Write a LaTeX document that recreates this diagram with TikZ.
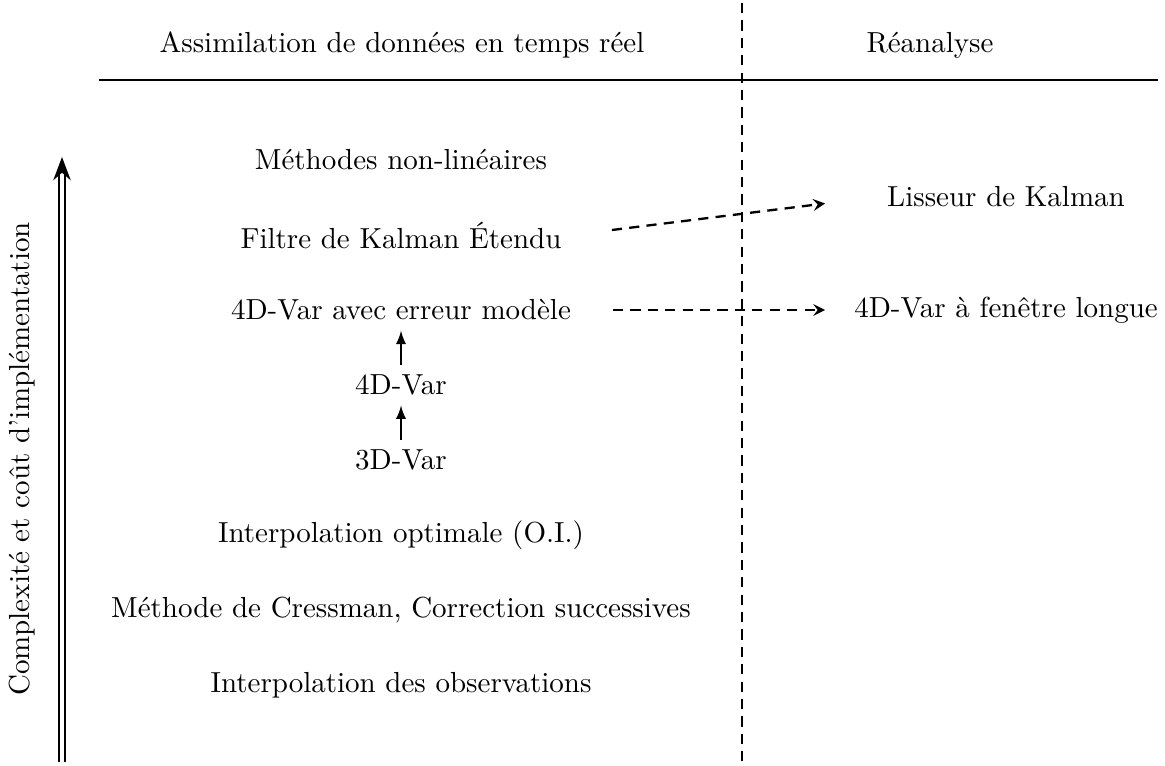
\documentclass[tikz,border=0pt]{standalone}
\usetikzlibrary{arrows.meta}
\tikzset{tiret/.style={thick,dash pattern=on 3.5pt off 2.5pt}}

\begin{document}
\begin{tikzpicture}[x=0.3448pt,y=-0.3448pt]
		\useasboundingbox (0,0) rectangle (1165,765);
		% Headers
		\node (assim) at (402,45) {Assimilation de données en temps réel};
		\node (reana) at (930,45) {Réanalyse};
		\coordinate (hg) at (99,80);
		\coordinate (hd) at (1158,80);
		\coordinate (vh) at (742,3);
		\coordinate (vb) at (742,765);
		\draw[thick] (hg) -- (hd);
		\draw[tiret] (vh) -- (vb);
		% First column
		\node (nonlin) at (401,160) {Méthodes non-linéaires};
		\node (ekf) at (401,235) {Filtre de Kalman Étendu};
		\node (var4dm) at (401,310) {4D-Var avec erreur modèle};
		\node (var4d) at (401,385) {4D-Var};
		\node (var3d) at (401,460) {3D-Var};
		\node (oi) at (401,535) {Interpolation optimale (O.I.)};
		\node (cress) at (401,610) {Méthode de Cressman, Correction successives};
		\node (interp) at (401,685) {Interpolation des observations};
		% Second column
		\node (lisseur) at (1006,197) {Lisseur de Kalman};
		\node (var4dl) at (1006,310) {4D-Var à fenêtre longue};
		% Draw arrows
		\draw[-latex,semithick] (var3d.north) -- (var4d.south);
		\draw[-latex,semithick] (var4d.north) -- (var4dm.south);
		\draw[-stealth,tiret,shorten <=14pt,shorten >=18pt] (ekf.east) -- (lisseur.west);
		\draw[-stealth,tiret,shorten <=11pt,shorten >=6.5pt] (var4dm.east) -- (var4dl.west);
		% Complexity axis
		\coordinate (ab) at (62,762);
		\coordinate (ah) at (62,157);
		\draw[thick,double,double distance=1.2pt,-{Stealth[length=8pt,width=6pt]}] (ab) -- (ah);
		\node[rotate=90] (axe) at (22,459) {Complexité et coût d'implémentation};
	\end{tikzpicture}
\end{document}
